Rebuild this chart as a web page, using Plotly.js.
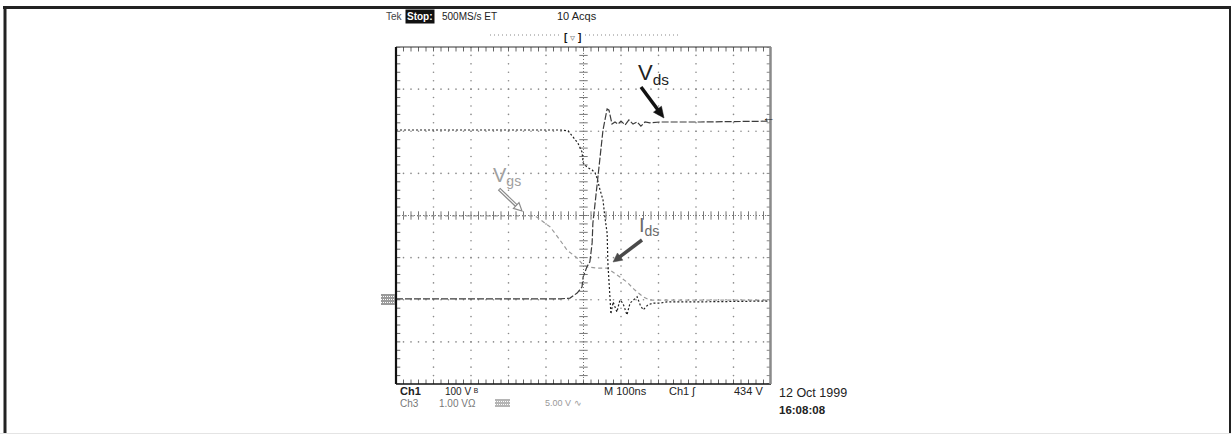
<!DOCTYPE html>
<html>
<head>
<meta charset="utf-8">
<script src="https://cdn.plot.ly/plotly-3.0.1.min.js"></script>
<style>html,body{margin:0;padding:0;background:#fff;}#chart{width:1231px;height:434px;}</style>
</head>
<body>
<div id="chart"></div>
<script>
// ---- data (time in ns, amplitude in screen divisions) ----
const timeVds = [-500,-356,-223,-116,-63,-36,-17,-4,-1,9,17,23,25,31,36,44,52,63,68,76,84,92,100,111,121,132,143,153,164,177,204,311,497];
const vdsDiv  = [-1.98,-1.98,-1.98,-1.98,-1.98,-1.96,-1.84,-1.70,-1.46,-1.22,-1.10,-0.65,-0.18,0.30,0.68,1.39,2.03,2.53,2.50,2.17,2.22,2.17,2.24,2.15,2.27,2.17,2.22,2.12,2.22,2.20,2.22,2.22,2.24];
const timeIds = [-500,-303,-63,-41,-28,-15,-4,-1,9,23,31,36,44,52,57,63,65,68,71,73,79,89,97,105,116,124,132,143,151,159,172,185,204,223,311,497];
const idsDiv  = [2.03,2.03,2.03,2.01,1.86,1.72,1.51,1.25,1.15,1.08,1.01,0.89,0.61,0.37,-0.04,-0.42,-1.13,-1.77,-2.01,-2.34,-2.05,-2.29,-2.01,-2.08,-2.36,-2.08,-2.01,-1.93,-2.12,-2.24,-2.12,-2.08,-2.08,-2.05,-2.05,-2.03];
const timeVgs = [-500,-129,-124,-108,-89,-63,-44,-17,-1,9,36,63,79,97,116,137,159,177,497];
const vgsDiv  = [-0.01,-0.01,-0.04,-0.15,-0.27,-0.58,-0.82,-1.01,-1.17,-1.22,-1.25,-1.25,-1.34,-1.46,-1.58,-1.77,-1.93,-2.01,-2.01];

const seriesNames = ['V<sub>ds</sub>','V<sub>gs</sub>','I<sub>ds</sub>'];
const headerTexts = ['Tek','Stop:','500MS/s ET','10 Acqs'];
const footerRow1 = ['Ch1','100 V ᴮ','M 100ns','Ch1 ʃ','434 V'];
const footerRow2 = ['Ch3','1.00 VΩ','5.00 V ∿'];
const dateText = '12 Oct 1999';
const timeText = '16:08:08';

// ---- layout geometry (page pixels) ----
const L = 396, R = 771, T = 47, B = 384;
const W = R - L, H = B - T;
function P(x, y) { return {x: (x - L) / W, y: (B - y) / H, xref: 'paper', yref: 'paper'}; }

// ---- graticule ----
const gx = [], gy = [];
for (let d = -4; d <= 4; d++) {
  if (d === 0) continue;
  for (let m = -20; m <= 20; m++) { gx.push(d * 100); gy.push(m * 0.2); }
}
for (let d = -3; d <= 3; d++) {
  if (d === 0) continue;
  for (let m = -25; m <= 25; m++) { gx.push(m * 20); gy.push(d); }
}
const cxT = [], cyT = [];
for (let m = -20; m <= 20; m++) { cxT.push(0); cyT.push(m * 0.2); }
const cxH = [], cyH = [];
for (let m = -25; m <= 25; m++) { cxH.push(m * 20); cyH.push(0); }
const exTop = [], eyTop = [], exBot = [], eyBot = [];
for (let m = -25; m <= 25; m++) { exTop.push(m * 20); eyTop.push(3.96); exBot.push(m * 20); eyBot.push(-3.96); }
const eyL = [], exL = [], eyR = [], exR = [];
for (let m = -20; m <= 20; m++) { eyL.push(m * 0.2); exL.push(-496); eyR.push(m * 0.2); exR.push(496); }

const traces = [
  {x: gx, y: gy, mode: 'markers', marker: {size: 1.6, color: '#8a8a8a'}, hoverinfo: 'skip'},
  {x: cxT, y: cyT, mode: 'markers', marker: {symbol: 'line-ew', size: 6, line: {width: 1, color: '#777'}}, hoverinfo: 'skip'},
  {x: cxH, y: cyH, mode: 'markers', marker: {symbol: 'line-ns', size: 6, line: {width: 1, color: '#777'}}, hoverinfo: 'skip'},
  {x: exTop, y: eyTop, mode: 'markers', marker: {symbol: 'line-ns', size: 4, line: {width: 1, color: '#666'}}, hoverinfo: 'skip'},
  {x: exBot, y: eyBot, mode: 'markers', marker: {symbol: 'line-ns', size: 4, line: {width: 1, color: '#666'}}, hoverinfo: 'skip'},
  {x: exL, y: eyL, mode: 'markers', marker: {symbol: 'line-ew', size: 4, line: {width: 1, color: '#666'}}, hoverinfo: 'skip'},
  {x: exR, y: eyR, mode: 'markers', marker: {symbol: 'line-ew', size: 4, line: {width: 1, color: '#888'}}, hoverinfo: 'skip'},
  {x: timeVgs, y: vgsDiv, mode: 'lines', name: seriesNames[1], line: {color: '#9a9a9a', width: 1.2, dash: '4px,3px'}},
  {x: timeIds, y: idsDiv, mode: 'lines', name: seriesNames[2], line: {color: '#222', width: 1.2, dash: '2px,2px'}},
  {x: timeVds, y: vdsDiv, mode: 'lines', name: seriesNames[0], line: {color: '#3c3c3c', width: 1.2, dash: '7px,2px'}}
];

function txt(text, x, y, size, color, extra) {
  return Object.assign({}, P(x, y), {text: text, showarrow: false, xanchor: 'left', yanchor: 'middle',
    font: {family: 'Liberation Sans, Arial, sans-serif', size: size, color: color}}, extra || {});
}

const annotations = [
  // header
  txt(headerTexts[0], 384, 16, 10, '#444'),
  txt('<b>' + headerTexts[1] + '</b>', 405, 16, 10, '#fff', {bgcolor: '#111', borderpad: 1}),
  txt(headerTexts[2], 440, 16, 10, '#222'),
  txt(headerTexts[3], 555, 16, 11, '#222'),
  txt('<b>[</b> <span style="color:#888">▿</span> <b>]</b>', 562, 37, 10, '#111'),
  // labels
  txt(seriesNames[0], 636, 74, 22, '#222'),
  txt(seriesNames[1], 491, 176, 20, '#a0a0a0'),
  txt(seriesNames[2], 637, 226, 20, '#6a6a6a'),
  // trigger marker
  txt('←', 760, 118, 13, '#111'),
  // footer row 1
  txt('<b>' + footerRow1[0] + '</b>', 398, 391, 11, '#222'),
  txt(footerRow1[1], 443, 391, 10, '#222'),
  txt(footerRow1[2], 602, 391, 11, '#222'),
  txt(footerRow1[3], 667, 391, 11, '#222'),
  txt(footerRow1[4], 732, 391, 11, '#222'),
  // footer row 2
  txt(footerRow2[0], 398, 403, 10, '#777'),
  txt(footerRow2[1], 437, 403, 10, '#777'),
  txt(footerRow2[2], 543, 403, 9, '#999'),
  // date / time
  txt(dateText, 777, 393, 12.5, '#222'),
  txt('<b>' + timeText + '</b>', 777, 410, 11.5, '#222')
];

function pline(x0, y0, x1, y1, color, width, dash) {
  const a = P(x0, y0), b = P(x1, y1);
  return {type: 'line', xref: 'paper', yref: 'paper', x0: a.x, y0: a.y, x1: b.x, y1: b.y,
    line: {color: color, width: width, dash: dash || 'solid'}};
}
function prect(x0, y0, x1, y1, color) {
  const a = P(x0, y0), b = P(x1, y1);
  return {type: 'rect', xref: 'paper', yref: 'paper', x0: a.x, y0: a.y, x1: b.x, y1: b.y,
    fillcolor: color, line: {width: 0}};
}
// arrow built from a shaft line and a triangular head (page pixels)
function arrowShapes(tx, ty, hx, hy, color, width, headLen, headW, inner) {
  const dx = hx - tx, dy = hy - ty, len = Math.hypot(dx, dy);
  const ux = dx / len, uy = dy / len, nx = -uy, ny = ux;
  const bx = hx - ux * headLen, by = hy - uy * headLen;
  const out = [pline(tx, ty, bx + ux, by + uy, color, width)];
  if (inner) out.push(pline(tx + ux, ty + uy, bx, by, inner, 1.1));
  const a = P(hx, hy), b = P(bx + nx * headW / 2, by + ny * headW / 2), c = P(bx - nx * headW / 2, by - ny * headW / 2);
  out.push({type: 'path', xref: 'paper', yref: 'paper',
    path: `M ${a.x} ${a.y} L ${b.x} ${b.y} L ${c.x} ${c.y} Z`,
    fillcolor: inner ? '#fff' : color, line: {color: color, width: inner ? 1.2 : 0.5}});
  return out;
}

const shapes = [
  // page frame
  pline(3, 7.5, 1231, 7.5, '#222', 3),
  pline(5, 6, 5, 434, '#222', 3),
  pline(1230, 6, 1230, 434, '#222', 2),
  pline(0, 433.5, 1231, 433.5, '#e4e4e4', 1),
  // centre lines
  {type: 'line', xref: 'x', yref: 'y', x0: 0, x1: 0, y0: -4, y1: 4, line: {color: '#777', width: 1, dash: '1px,2px'}},
  {type: 'line', xref: 'x', yref: 'y', x0: -500, x1: 500, y0: 0, y1: 0, line: {color: '#777', width: 1, dash: '1px,2px'}},
  // plot frame
  pline(L, T, R, T, '#333', 1.2),
  pline(L, B, R, B, '#111', 1.5),
  pline(L, T, L, B, '#111', 2.2),
  pline(R - 0.5, T, R - 0.5, B, '#8a8a8a', 2.5),
  // header dotted record bar
  pline(490, 35, 560, 35, '#888', 1, '1px,3px'),
  pline(585, 35, 680, 35, '#888', 1, '1px,3px'),
  // ground markers (hatched look)
  prect(381, 294, 395, 305, '#9a9a9a'),
  pline(381, 296.5, 395, 296.5, '#fff', 1, '1px,1px'),
  pline(381, 299.5, 395, 299.5, '#fff', 1, '1px,1px'),
  pline(381, 302.5, 395, 302.5, '#fff', 1, '1px,1px'),
  prect(495, 399, 510, 407, '#b5b5b5'),
  pline(495, 401.5, 510, 401.5, '#fff', 1, '1px,1px'),
  pline(495, 404.5, 510, 404.5, '#fff', 1, '1px,1px')
].concat(
  arrowShapes(641, 87, 664, 118, '#111', 3.5, 11, 10),
  arrowShapes(499, 189, 522, 211, '#8a8a8a', 3.5, 8, 8, '#fff'),
  arrowShapes(642, 240, 613, 262, '#4a4a4a', 3.5, 9, 9)
);

const layout = {
  width: 1231, height: 434,
  margin: {l: L, r: 1231 - R, t: T, b: 434 - B, pad: 0},
  paper_bgcolor: '#fff', plot_bgcolor: '#fff',
  showlegend: false,
  xaxis: {range: [-500, 500], showgrid: false, zeroline: false, showticklabels: false, ticks: '', showline: false, fixedrange: true},
  yaxis: {range: [-4, 4], showgrid: false, zeroline: false, showticklabels: false, ticks: '', showline: false, fixedrange: true},
  annotations: annotations,
  shapes: shapes
};

Plotly.newPlot('chart', traces, layout, {staticPlot: true, displayModeBar: false});
</script>
</body>
</html>
